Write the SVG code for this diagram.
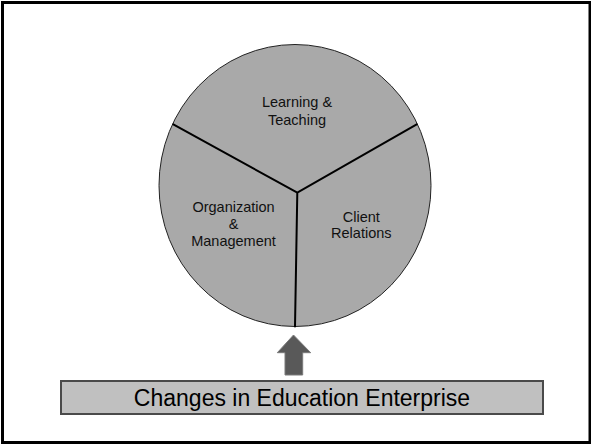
<svg xmlns="http://www.w3.org/2000/svg" width="591" height="445" viewBox="0 0 591 445">
<style>
.lbl{font-family:"Liberation Sans",Arial,sans-serif;font-size:14.5px;fill:#111;text-anchor:middle}
.div{stroke:#000;stroke-width:2;fill:none;stroke-linecap:round}
</style>
<rect x="0" y="0" width="591" height="445" fill="#fff"/>
<rect x="2.5" y="2.5" width="587.5" height="440" fill="none" stroke="#000" stroke-width="3"/>
<g id="pie">
<ellipse cx="295" cy="185.5" rx="136" ry="141" fill="#a9a9a9" stroke="#222" stroke-width="1"/>
</g>
<g id="connectors">
<path class="div" d="M173.3,124.3 L297.3,192.7 L416.7,124.3 M297.3,192.7 L295,326.5"/>
</g>
<g id="learning">
<text class="lbl" x="297" y="106.7">Learning &amp;</text>
<text class="lbl" x="297" y="125">Teaching</text>
</g>
<g id="organization">
<text class="lbl" x="233.5" y="211.7">Organization</text>
<text class="lbl" x="233.5" y="228.5">&amp;</text>
<text class="lbl" x="233.5" y="245.5">Management</text>
</g>
<g id="client">
<text class="lbl" x="361.3" y="221.7">Client</text>
<text class="lbl" x="361.3" y="238.3">Relations</text>
</g>
<g id="arrow">
<polygon points="293.5,335 310.7,352.7 302.7,352.7 302.7,375 285,375 285,352.7 277.3,352.7" fill="#595959" stroke="#7a7a7a" stroke-width="1"/>
</g>
<g id="changes">
<rect x="61" y="381" width="482" height="33" fill="#c0c0c0" stroke="#4a4a4a" stroke-width="2"/>
<text x="302" y="406" font-family="&quot;Liberation Sans&quot;,Arial,sans-serif" font-size="23" fill="#000" text-anchor="middle">Changes in Education Enterprise</text>
</g>
</svg>
